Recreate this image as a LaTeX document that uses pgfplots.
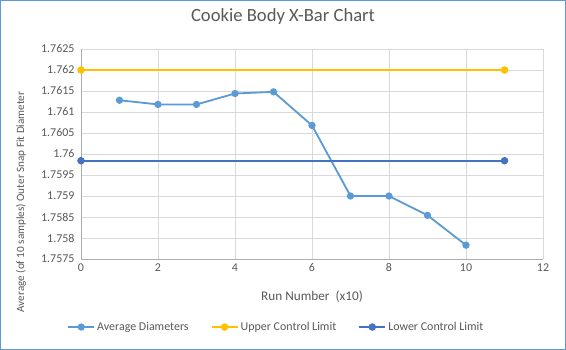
\documentclass[border=0pt]{standalone}
\usepackage{pgfplots}
\pgfplotsset{compat=1.18}
\usepackage{fontspec}
\setmainfont{Carlito}
\definecolor{avgc}{HTML}{5B9BD5}
\definecolor{uclc}{HTML}{FFC000}
\definecolor{lclc}{HTML}{4472C4}
\definecolor{gridc}{HTML}{D9D9D9}
\definecolor{txtc}{HTML}{595959}
\definecolor{framec}{HTML}{5B9BD5}
\begin{document}
\begin{tikzpicture}
\draw[framec, line width=1.2bp, fill=white] (-80.4bp,-90.4bp) rectangle (484.4bp,258.4bp);
\begin{axis}[
  scale only axis,
  width=462bp, height=210bp,
  xmin=0, xmax=12, ymin=1.7575, ymax=1.7625,
  xtick={0,2,4,6,8,10,12},
  ytick={1.7575,1.758,1.7585,1.759,1.7595,1.76,1.7605,1.761,1.7615,1.762,1.7625},
  grid=major,
  major grid style={gridc, line width=0.8bp},
  axis lines*=left,
  axis line style={draw=gridc!80!black, line width=0.8bp, -},
  tick style={draw=none},
  ticklabel style={font=\fontsize{12}{13}\selectfont, text=txtc},
  xticklabel style={yshift=-1bp},
  yticklabel style={xshift=-3bp},
  /pgf/number format/assume math mode=true,
  yticklabel style={/pgf/number format/.cd, fixed, precision=4},
  xticklabel style={/pgf/number format/.cd, fixed},
  legend columns=3,
  legend style={at={(0.423,-0.324)}, anchor=center, draw=none, fill=none,
    font=\fontsize{12}{13}\selectfont, text=txtc, inner sep=0pt,
    /tikz/every even column/.append style={column sep=20bp}},
  legend image code/.code={\draw[#1, mark repeat=2, mark phase=2] plot coordinates {(0bp,0bp) (13bp,0bp) (26bp,0bp)};},
  clip=false,
]
\addplot[avgc, line width=1.8bp, mark=*, mark size=2.7bp, mark options={fill=avgc, draw=avgc}] coordinates {
 (1,1.76128) (2,1.76118) (3,1.76118) (4,1.76144) (5,1.76148) (6,1.76068) (7,1.75900) (8,1.75900) (9,1.75854) (10,1.75783)
};
\addlegendentry{Average Diameters}
\addplot[uclc, line width=2bp, mark=*, mark size=2.7bp, mark options={fill=uclc, draw=uclc}] coordinates {
 (0,1.7620) (11,1.7620)
};
\addlegendentry{Upper Control Limit}
\addplot[lclc, line width=2bp, mark=*, mark size=2.7bp, mark options={fill=lclc, draw=lclc}] coordinates {
 (0,1.75984) (11,1.75984)
};
\addlegendentry{Lower Control Limit}
\end{axis}
\node[text=txtc, font=\fontsize{18.7}{20}\selectfont] at (202bp,242bp) {Cookie Body X-Bar Chart};
\node[text=txtc, font=\fontsize{13.3}{15}\selectfont] at (231bp,-38bp) {Run Number \ (x10)};
\node[text=txtc, font=\fontsize{11.2}{13}\selectfont, rotate=90] at (-60bp,57bp) {Average (of 10 samples) Outer Snap Fit Diameter};
\end{tikzpicture}
\end{document}
